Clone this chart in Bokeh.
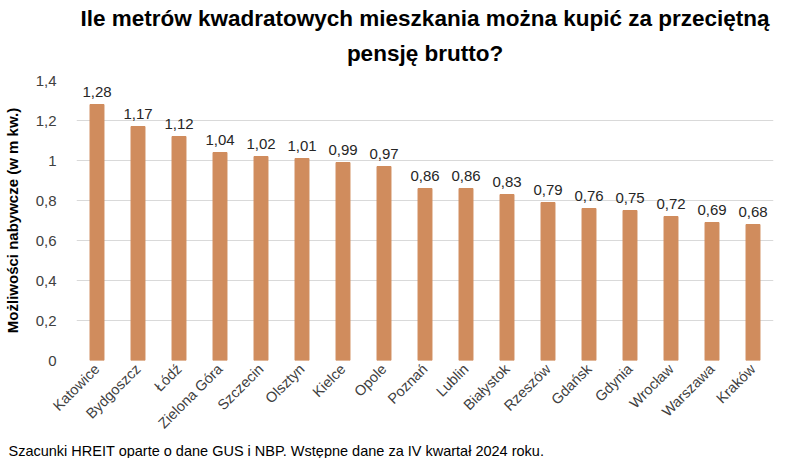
from bokeh.plotting import figure
from bokeh.models import ColumnDataSource, Title, FixedTicker
from bokeh.core.properties import value
from bokeh.embed import file_html
from bokeh.resources import INLINE
import math

cities = ["Katowice", "Bydgoszcz", "Łódź", "Zielona Góra", "Szczecin", "Olsztyn", "Kielce",
          "Opole", "Poznań", "Lublin", "Białystok", "Rzeszów", "Gdańsk", "Gdynia", "Wrocław",
          "Warszawa", "Kraków"]
values = [1.28, 1.17, 1.12, 1.04, 1.02, 1.01, 0.99, 0.97, 0.86, 0.86, 0.83, 0.79, 0.76, 0.75,
          0.72, 0.69, 0.68]
y_ticks = [0, 0.2, 0.4, 0.6, 0.8, 1.0, 1.2, 1.4]
y_tick_labels = ["0", "0,2", "0,4", "0,6", "0,8", "1", "1,2", "1,4"]

labels = [f"{v:.2f}".replace(".", ",") for v in values]
src = ColumnDataSource(dict(city=cities, val=values, lab=labels))

FONT = "Liberation Sans"

p = figure(x_range=cities, y_range=(0, 1.4), width=776, height=458,
           output_backend="svg", toolbar_location=None,
           min_border_left=68, min_border_right=3, min_border_top=0, min_border_bottom=0)

p.vbar(x="city", top="val", width=0.34, source=src, color="#D08C5D")
p.text(x="city", y="val", text="lab", source=src, text_align="center", text_baseline="bottom",
       y_offset=-8, text_font=value(FONT), text_font_size="15px", text_color="#262626")

# titles
t2 = Title(text="pensję brutto?", align="center", text_font=FONT, text_font_size="22.5px",
           text_font_style="bold", text_color="#000000", standoff=29)
t1 = Title(text="Ile metrów kwadratowych mieszkania można kupić za przeciętną", align="center",
           text_font=FONT, text_font_size="22.5px", text_font_style="bold", text_color="#000000",
           standoff=-12)
spacer = Title(text=" ", text_font_size="7px", standoff=0)
p.add_layout(t2, "above")
p.add_layout(t1, "above")
p.add_layout(spacer, "above")

foot = Title(text="Szacunki HREIT oparte o dane GUS i NBP. Wstępne dane za IV kwartał 2024 roku.",
             align="left", offset=-68, text_font=FONT, text_font_size="14.5px",
             text_font_style="normal", text_color="#000000", standoff=0,
             text_line_height=1.0)
p.add_layout(foot, "below")

p.yaxis.ticker = FixedTicker(ticks=y_ticks)
p.yaxis.major_label_overrides = {t: l for t, l in zip(y_ticks, y_tick_labels)}
p.yaxis.axis_label = "Możliwości nabywcze (w m kw.)"
p.yaxis.axis_label_text_font = FONT
p.yaxis.axis_label_text_font_style = "bold"
p.yaxis.axis_label_text_font_size = "15px"
p.yaxis.axis_label_text_color = "#000000"
p.yaxis.axis_label_standoff = 12
p.yaxis.major_label_standoff = 14

for ax in (p.xaxis, p.yaxis):
    ax.axis_line_color = None
    ax.major_tick_line_color = None
    ax.minor_tick_line_color = None
    ax.major_label_text_font = FONT
    ax.major_label_text_font_size = "15px"
    ax.major_label_text_color = "#404040"

p.xaxis.major_label_text_font_size = "14.5px"
p.xaxis.major_label_orientation = math.pi / 4
p.xaxis.major_label_standoff = 0

p.xgrid.grid_line_color = None
p.ygrid.grid_line_color = "#D9D9D9"
p.ygrid.grid_line_width = 1
p.outline_line_color = None
p.x_range.range_padding = 0.0

open("out.html", "w").write(file_html(p, INLINE))
